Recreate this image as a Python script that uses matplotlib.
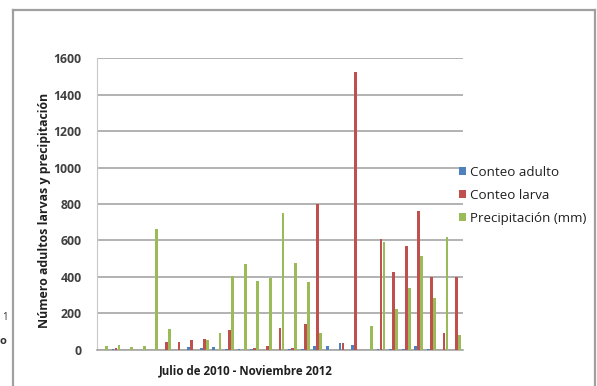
import matplotlib
matplotlib.use("Agg")
import matplotlib.pyplot as plt
import numpy as np
from matplotlib.lines import Line2D

# Monthly counts, July 2010 - November 2012
adult = [0, 5, 0, 0, 0, 0, 0, 18, 10, 15, 7, 5, 5, 0, 0, 5, 8, 22, 22, 37,
         27, 0, 5, 5, 5, 22, 5, 0, 0]
larva = [0, 10, 0, 0, 0, 42, 42, 55, 60, 0, 110, 0, 10, 22, 119, 10, 141, 800,
         0, 37, 1521, 0, 607, 430, 570, 759, 398, 91, 398]
rain = [22, 25, 18, 20, 663, 115, 0, 0, 55, 95, 408, 473, 377, 397, 750, 479,
        373, 91, 0, 0, 0, 132, 590, 223, 338, 516, 283, 618, 82]
series_names = ["Conteo adulto", "Conteo larva", "Precipitación (mm)"]
y_ticks = [0, 200, 400, 600, 800, 1000, 1200, 1400, 1600]

colors = ["#4F81BD", "#C0504D", "#9BBB59"]
text_color = "#404040"
plt.rcParams["font.family"] = ["Open Sans", "DejaVu Sans"]

fig = plt.figure(figsize=(5.97, 3.86), dpi=100)
ax = fig.add_axes([0.1625, 0.0933, 0.613, 0.7564])

x = np.arange(len(adult))
w = 0.24
for k, (vals, name) in enumerate(zip([adult, larva, rain], series_names)):
    ax.bar(x + (k - 1) * w, vals, width=w * 0.92, color=colors[k], label=name,
           zorder=3)

ax.set_xlim(-0.5, len(adult) - 0.5)
ax.set_ylim(0, 1600)
ax.set_yticks(y_ticks)
ax.set_yticklabels([str(t) for t in y_ticks], fontsize=8.8, fontweight="bold",
                   color=text_color)
ax.set_xticks([])
ax.tick_params(axis="y", length=0, pad=11)
ax.yaxis.grid(True, color="#a6a6a6", linewidth=1.2, zorder=0)
for s in ["top", "right"]:
    ax.spines[s].set_visible(False)
ax.spines["left"].set_color("#c8c8c8")
ax.spines["bottom"].set_color("#a6a6a6")
ax.spines["bottom"].set_linewidth(1.2)

fig.text(246 / 597, 1 - 371 / 386, "Julio de 2010 - Noviembre 2012",
         ha="center", va="center", fontsize=8.3, fontweight="bold",
         color="#202020")
fig.text(0.074, 0.456, "Número adultos larvas y precipitación", rotation=90,
         ha="center", va="center", fontsize=8.9, fontweight="bold",
         color="#202020")

leg = ax.legend(loc="center left", bbox_to_anchor=(0.955, 0.53), frameon=False,
                fontsize=9.6, handlelength=0.55, handleheight=0.55,
                handletextpad=0.3, labelspacing=0.75, labelcolor="#202020")

# chart border (left, top, right edges)
bx0, bx1, by1 = 13 / 597, 595 / 597, 1 - 10 / 386
border_kw = dict(transform=fig.transFigure, color="#a0a0a0", linewidth=1.6)
fig.add_artist(Line2D([bx0, bx0], [0, by1], **border_kw))
fig.add_artist(Line2D([bx0, bx1], [by1, by1], **border_kw))
fig.add_artist(Line2D([bx1, bx1], [0, by1], **border_kw))

fig.text(0.003, 1 - 318 / 386, "1", fontsize=7, color="#303030", va="center")
fig.text(0.0, 1 - 342 / 386, "o", fontsize=8, fontweight="bold", color="#303030",
         va="center")

fig.savefig("out.png", dpi=100)
